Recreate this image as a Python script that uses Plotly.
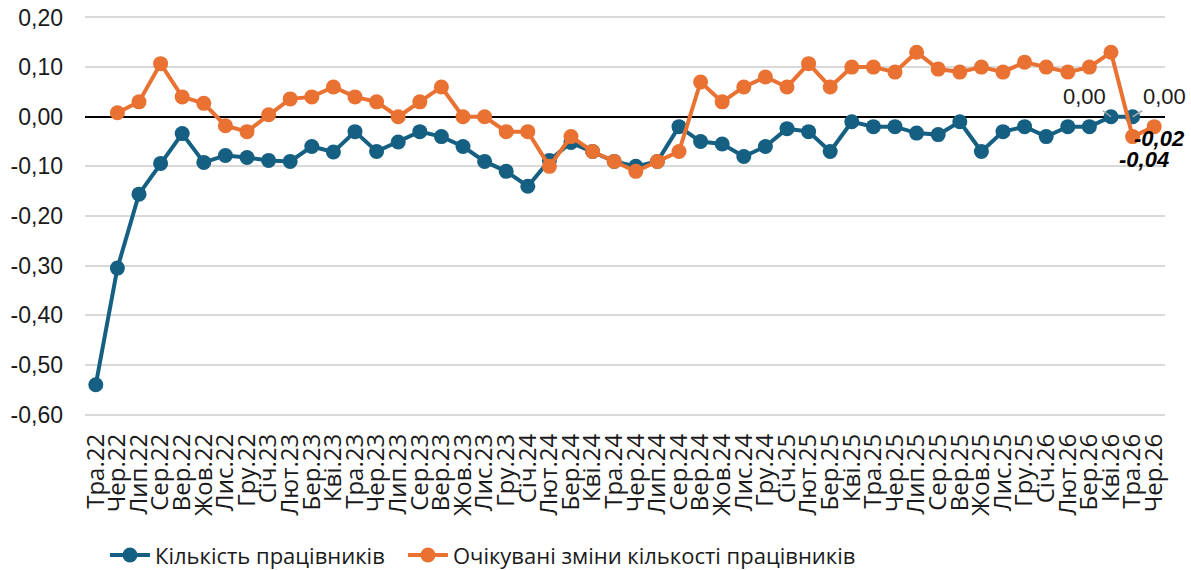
import plotly.graph_objects as go

months = ["Тра.22", "Чер.22", "Лип.22", "Сер.22", "Вер.22", "Жов.22", "Лис.22", "Гру.22",
          "Січ.23", "Лют.23", "Бер.23", "Кві.23", "Тра.23", "Чер.23", "Лип.23", "Сер.23",
          "Вер.23", "Жов.23", "Лис.23", "Гру.23",
          "Січ.24", "Лют.24", "Бер.24", "Кві.24", "Тра.24", "Чер.24", "Лип.24", "Сер.24",
          "Вер.24", "Жов.24", "Лис.24", "Гру.24",
          "Січ.25", "Лют.25", "Бер.25", "Кві.25", "Тра.25", "Чер.25", "Лип.25", "Сер.25",
          "Вер.25", "Жов.25", "Лис.25", "Гру.25",
          "Січ.26", "Лют.26", "Бер.26", "Кві.26", "Тра.26", "Чер.26"]

employees = [-0.54, -0.305, -0.156, -0.094, -0.034, -0.092, -0.078, -0.082,
             -0.088, -0.090, -0.060, -0.071, -0.030, -0.070, -0.051, -0.030,
             -0.040, -0.060, -0.090, -0.110,
             -0.140, -0.088, -0.052, -0.070, -0.090, -0.100, -0.090, -0.020,
             -0.050, -0.055, -0.080, -0.060,
             -0.024, -0.030, -0.070, -0.010, -0.020, -0.020, -0.033, -0.036,
             -0.010, -0.070, -0.030, -0.020,
             -0.040, -0.020, -0.020, 0.000, 0.000, None]

expected = [None, 0.008, 0.030, 0.107, 0.040, 0.027, -0.018, -0.030,
            0.004, 0.036, 0.040, 0.060, 0.040, 0.030, 0.000, 0.030,
            0.060, 0.000, 0.000, -0.030,
            -0.030, -0.100, -0.040, -0.070, -0.090, -0.110, -0.090, -0.070,
            0.070, 0.030, 0.060, 0.080,
            0.060, 0.107, 0.060, 0.100, 0.100, 0.090, 0.130, 0.096,
            0.090, 0.100, 0.090, 0.110,
            0.100, 0.090, 0.100, 0.130, -0.040, -0.020]

y_ticks = [0.2, 0.1, 0.0, -0.1, -0.2, -0.3, -0.4, -0.5, -0.6]
y_tick_text = ["0,20", "0,10", "0,00", "-0,10", "-0,20", "-0,30", "-0,40", "-0,50", "-0,60"]

BLUE = "#156082"
ORANGE = "#E97132"
TEXT = "#1a1a1a"


def fmt(v):
    return f"{v:.2f}".replace(".", ",")


fig = go.Figure()
fig.add_trace(go.Scatter(
    x=months, y=employees, name="Кількість працівників", mode="lines+markers",
    line=dict(color=BLUE, width=4), marker=dict(color=BLUE, size=15),
    connectgaps=False, legend="legend",
))
fig.add_trace(go.Scatter(
    x=months, y=expected, name="Очікувані зміни кількості працівників", mode="lines+markers",
    line=dict(color=ORANGE, width=4), marker=dict(color=ORANGE, size=15),
    connectgaps=False, legend="legend2",
))

# data labels on the last points
i_k, i_t, i_c = months.index("Кві.26"), months.index("Тра.26"), months.index("Чер.26")
label_font = dict(family="Liberation Sans, Arial", size=22, color=TEXT)
fig.add_annotation(x=months[i_k], y=employees[i_k], text=fmt(employees[i_k]),
                   showarrow=True, arrowhead=0, arrowcolor="#A6A6A6", arrowwidth=1.5,
                   ax=-27, ay=-20, font=label_font)
fig.add_annotation(x=months[i_t], y=employees[i_t], text=fmt(employees[i_t]),
                   showarrow=True, arrowhead=0, arrowcolor="#A6A6A6", arrowwidth=1.5,
                   ax=32, ay=-20, font=label_font)
bold_font = dict(family="Liberation Sans, Arial", size=22, color="#000000")
fig.add_annotation(x=months[i_c], y=expected[i_c], text="<b><i>" + fmt(expected[i_c]) + "</i></b>",
                   showarrow=False, xshift=5, yshift=-12, font=bold_font)
fig.add_annotation(x=months[i_t], y=expected[i_t], text="<b><i>" + fmt(expected[i_t]) + "</i></b>",
                   showarrow=False, xshift=11, yshift=-23, font=bold_font)

legend_font = dict(family="Open Sans, Roboto, sans-serif", size=22, color=TEXT)
fig.update_layout(
    width=1191, height=570,
    margin=dict(l=85, r=26, t=16, b=154),
    plot_bgcolor="white", paper_bgcolor="white",
    showlegend=True,
    legend=dict(orientation="h", xref="paper", yref="container",
                x=0.0185, xanchor="left", y=0.026, yanchor="middle",
                font=legend_font, itemwidth=40, bgcolor="rgba(0,0,0,0)"),
    legend2=dict(orientation="h", xref="paper", yref="container",
                 x=0.2944, xanchor="left", y=0.026, yanchor="middle",
                 font=legend_font, itemwidth=40, bgcolor="rgba(0,0,0,0)"),
)
fig.update_xaxes(
    type="category", range=[-0.5, len(months) - 0.5],
    tickmode="array", tickvals=months, ticktext=months,
    tickangle=-90, showgrid=False, ticks="", ticklabelstandoff=12,
    tickfont=dict(family="Open Sans, Roboto, sans-serif", size=24, color=TEXT),
    showline=False, automargin=False,
)
fig.update_yaxes(
    range=[-0.603, 0.203], tickvals=y_ticks, ticktext=y_tick_text,
    showgrid=True, gridcolor="#D9D9D9", gridwidth=1.5,
    zeroline=True, zerolinecolor="#000000", zerolinewidth=1.5,
    tickfont=dict(family="Liberation Sans, Arial", size=23, color=TEXT),
    ticks="", ticklabelstandoff=21, showline=False, automargin=False,
)

fig.write_html("out.html", config={"displayModeBar": False},
               post_script="document.body.style.margin='0';")
